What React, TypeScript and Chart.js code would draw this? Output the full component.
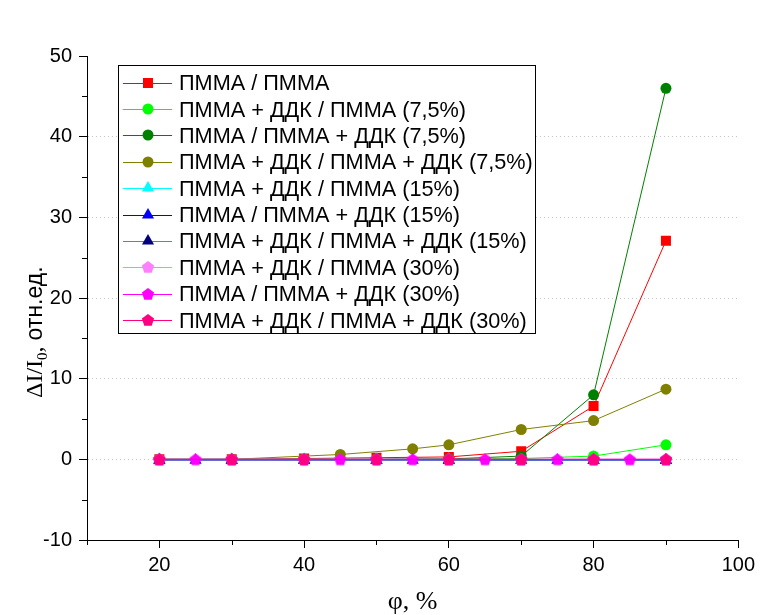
import React, { useEffect, useRef } from "react";
import { Chart, registerables } from "chart.js";
Chart.register(...registerables);

// ---- data ----
const seriesLabels = [
  "ПММА / ПММА",
  "ПММА + ДДК / ПММА (7,5%)",
  "ПММА / ПММА + ДДК (7,5%)",
  "ПММА + ДДК / ПММА + ДДК (7,5%)",
  "ПММА + ДДК / ПММА (15%)",
  "ПММА / ПММА + ДДК (15%)",
  "ПММА + ДДК / ПММА + ДДК (15%)",
  "ПММА + ДДК / ПММА (30%)",
  "ПММА / ПММА + ДДК (30%)",
  "ПММА + ДДК / ПММА + ДДК (30%)",
];

const xMain = [20, 30, 40, 50, 60, 70, 80, 90];
const redY = [0, 0, 0.1, 0.2, 0.3, 1.0, 6.6, 27.1];
const limeY = [0, 0, 0, 0, 0.05, 0.1, 0.4, 1.8];
const greenY = [0, 0, 0, 0, 0.05, 0.4, 8.0, 46.0];
const oliveX = [20, 30, 45, 55, 60, 70, 80, 90];
const oliveY = [0, 0, 0.6, 1.3, 1.8, 3.7, 4.8, 8.7];
const cyanY = [0, 0, 0, 0, 0, -0.1, -0.1, -0.1];
const blueX = [20, 25, 30, 40, 50, 55, 60, 75, 80, 90];
const blueY = [-0.1, -0.1, -0.1, -0.1, -0.1, -0.1, -0.1, -0.1, -0.1, -0.1];
const navyY = [-0.1, -0.1, -0.1, -0.1, -0.1, -0.1, -0.1, -0.1];
const lightPinkY = [0, 0, 0, 0, 0, 0, 0, 0];
const magentaX = [20, 25, 30, 40, 45, 50, 55, 60, 65, 70, 75, 80, 85, 90];
const magentaY = [0, 0, 0, 0, 0, 0, 0, 0, 0, 0, 0, 0, 0, 0];
const deepPinkY = [0, 0, 0, 0, 0, 0, 0, 0];

const xTickValues = [20, 40, 60, 80, 100];
const xMinorTicks = [10, 30, 50, 70, 90];
const yTickValues = [-10, 0, 10, 20, 30, 40, 50];
const yMinorTicks = [-5, 5, 15, 25, 35, 45];

const SANS = "'Liberation Sans', Arial, sans-serif";
const SERIF = "'Liberation Serif', 'Times New Roman', serif";

function makePentagon(color: string, r: number) {
  const size = 14;
  const c = document.createElement("canvas");
  c.width = size;
  c.height = size;
  const g = c.getContext("2d")!;
  g.fillStyle = color;
  g.beginPath();
  for (let k = 0; k < 5; k++) {
    const a = -Math.PI / 2 + (k * 2 * Math.PI) / 5;
    const px = size / 2 + r * Math.cos(a);
    const py = size / 2 + 0.5 + r * Math.sin(a);
    if (k) g.lineTo(px, py);
    else g.moveTo(px, py);
  }
  g.closePath();
  g.fill();
  return c;
}

const pts = (xs: number[], ys: number[]) => xs.map((x, i) => ({ x, y: ys[i] }));

const overlayPlugin = {
  id: "overlay",
  afterDraw(chart: any) {
    const ctx = chart.ctx as CanvasRenderingContext2D;
    const xs = chart.scales.x;
    const ys = chart.scales.y;
    const area = chart.chartArea;
    ctx.save();
    // minor ticks
    ctx.strokeStyle = "#000";
    ctx.lineWidth = 1;
    ctx.beginPath();
    xMinorTicks.forEach((v) => {
      const px = Math.round(xs.getPixelForValue(v)) + 0.5;
      ctx.moveTo(px, area.bottom);
      ctx.lineTo(px, area.bottom + 5);
    });
    yMinorTicks.forEach((v) => {
      const py = Math.round(ys.getPixelForValue(v)) + 0.5;
      ctx.moveTo(area.left, py);
      ctx.lineTo(area.left - 5, py);
    });
    ctx.stroke();

    // x title
    ctx.fillStyle = "#000";
    ctx.font = `26px ${SERIF}`;
    ctx.textAlign = "center";
    ctx.textBaseline = "alphabetic";
    ctx.fillText("φ, %", (area.left + area.right) / 2, 609);

    // y title (rotated)
    ctx.save();
    ctx.translate(42, 398);
    ctx.rotate(-Math.PI / 2);
    ctx.textAlign = "left";
    let cx = 0;
    ctx.font = `24px ${SERIF}`;
    ctx.fillText("ΔI/I", cx, 0);
    cx += ctx.measureText("ΔI/I").width;
    ctx.font = `15px ${SERIF}`;
    ctx.fillText("0", cx, 5);
    cx += ctx.measureText("0").width;
    ctx.font = `24px ${SERIF}`;
    ctx.fillText(", ", cx, 0);
    cx += ctx.measureText(", ").width;
    ctx.font = `23px ${SANS}`;
    ctx.fillText("отн.ед.", cx, 0);
    ctx.restore();

    // legend box
    const bx = 118, by = 65, bw = 417, bh = 268;
    ctx.fillStyle = "#fff";
    ctx.fillRect(bx, by, bw, bh);
    ctx.strokeStyle = "#000";
    ctx.lineWidth = 1;
    ctx.strokeRect(bx + 0.5, by + 0.5, bw, bh);
    chart.data.datasets.forEach((ds: any, i: number) => {
      const cy = 82.7 + i * 26.37;
      const lyRow = Math.round(cy) + 0.5;
      ctx.strokeStyle = ds.borderColor;
      ctx.lineWidth = 1;
      ctx.beginPath();
      ctx.moveTo(123, lyRow);
      ctx.lineTo(172, lyRow);
      ctx.stroke();
      const mx = 148, my = Math.round(cy);
      ctx.fillStyle = ds.pointBackgroundColor;
      const st = ds.pointStyle;
      if (st === "rect") {
        ctx.fillRect(mx - 5, my - 5, 10, 10);
      } else if (st === "circle") {
        ctx.beginPath();
        ctx.arc(mx, my, ds.pointRadius, 0, Math.PI * 2);
        ctx.fill();
      } else if (st === "triangle") {
        const r = ds.pointRadius;
        ctx.beginPath();
        for (let k = 0; k < 3; k++) {
          const a = (k * 2 * Math.PI) / 3;
          const px = mx + Math.sin(a) * r, py = my - Math.cos(a) * r;
          if (k) ctx.lineTo(px, py);
          else ctx.moveTo(px, py);
        }
        ctx.closePath();
        ctx.fill();
      } else if (st && st.width) {
        ctx.drawImage(st, mx - st.width / 2, my - st.height / 2);
      }
      ctx.fillStyle = "#000";
      ctx.font = `21.7px ${SANS}`;
      ctx.textAlign = "left";
      ctx.textBaseline = "alphabetic";
      ctx.fillText(ds.label, 179, cy + 7.5);
    });
    ctx.restore();
  },
};

export default function App() {
  const ref = useRef<HTMLCanvasElement | null>(null);
  useEffect(() => {
    if (!ref.current) return;
    const lightPent = makePentagon("#FF80FF", 6.4);
    const magPent = makePentagon("#FF00FF", 6.4);
    const deepPent = makePentagon("#FF0080", 6.4);
    const mk = (
      i: number,
      data: any[],
      line: string,
      fill: string,
      style: any,
      radius: number
    ) => ({
      label: seriesLabels[i],
      data,
      borderColor: line,
      backgroundColor: fill,
      pointBackgroundColor: fill,
      pointBorderColor: fill,
      pointBorderWidth: 0,
      pointStyle: style,
      pointRadius: radius,
      borderWidth: 1,
      tension: 0,
      fill: false,
      order: 20 - i,
    });
    const chart = new Chart(ref.current, {
      type: "line",
      data: {
        datasets: [
          mk(0, pts(xMain, redY), "#FF0000", "#FF0000", "rect", 7.07),
          mk(1, pts(xMain, limeY), "#00FF00", "#00FF00", "circle", 5.5),
          mk(2, pts(xMain, greenY), "#008000", "#008000", "circle", 5.5),
          mk(3, pts(oliveX, oliveY), "#808000", "#808000", "circle", 5.5),
          mk(4, pts(xMain, cyanY), "#00FFFF", "#00FFFF", "triangle", 7),
          mk(5, pts(blueX, blueY), "#0000FF", "#0000FF", "triangle", 7),
          mk(6, pts(xMain, navyY), "#7474C0", "#000080", "triangle", 7),
          mk(7, pts(xMain, lightPinkY), "#FF80FF", "#FF80FF", lightPent, 6.4),
          mk(8, pts(magentaX, magentaY), "#FF00FF", "#FF00FF", magPent, 6.4),
          mk(9, pts(xMain, deepPinkY), "#FF0080", "#FF0080", deepPent, 6.4),
        ] as any,
      },
      options: {
        animation: false,
        responsive: false,
        maintainAspectRatio: false,
        layout: { padding: { top: 56, right: 19, left: 0, bottom: 0 } },
        plugins: { legend: { display: false }, tooltip: { enabled: false } },
        scales: {
          x: {
            type: "linear",
            min: 10,
            max: 100,
            afterBuildTicks: (s: any) => {
              s.ticks = xTickValues.map((v) => ({ value: v }));
            },
            afterFit: (s: any) => {
              s.height = 75;
            },
            grid: { drawOnChartArea: false, tickLength: 8, tickColor: "#000" },
            border: { color: "#000", width: 1 },
            ticks: {
              color: "#000",
              font: { family: SANS, size: 20 },
              padding: 5,
              maxRotation: 0,
              autoSkip: false,
            },
          },
          y: {
            type: "linear",
            min: -10,
            max: 50,
            afterBuildTicks: (s: any) => {
              s.ticks = yTickValues.map((v) => ({ value: v }));
            },
            afterFit: (s: any) => {
              s.width = 87;
            },
            grid: {
              color: (c: any) =>
                c.tick && c.tick.value > -10 && c.tick.value < 50 ? "#c4c4c4" : "rgba(0,0,0,0)",
              tickLength: 8,
              tickColor: "#000",
            },
            border: { color: "#000", width: 1, dash: [1, 3] },
            ticks: {
              color: "#000",
              font: { family: SANS, size: 20 },
              padding: 7,
              autoSkip: false,
            },
          },
        },
      },
      plugins: [overlayPlugin],
    });
    return () => chart.destroy();
  }, []);
  return (
    <div style={{ position: "absolute", left: 0, top: 0, width: 760, height: 615, background: "#fff" }}>
      <canvas ref={ref} width={760} height={615} style={{ width: 760, height: 615, display: "block" }} />
    </div>
  );
}
